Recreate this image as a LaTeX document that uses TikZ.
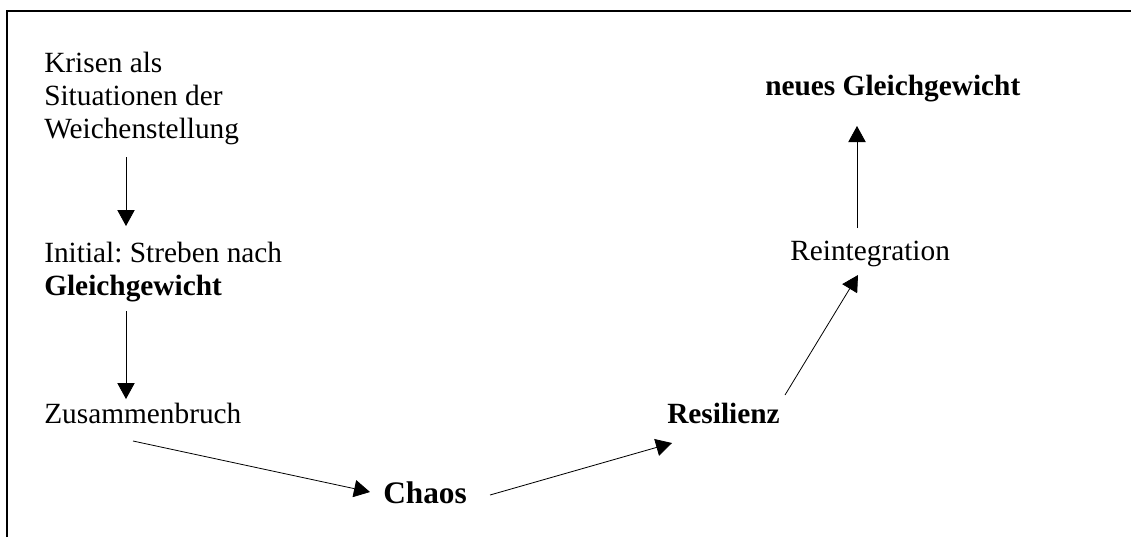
\documentclass[tikz,border=0pt]{standalone}
\usepackage{fontspec}
\setmainfont{Liberation Serif}
\usetikzlibrary{arrows.meta}
\frenchspacing
\begin{document}
\begin{tikzpicture}[x=0.75pt,y=-0.75pt,
  lbl/.style={inner sep=0pt,anchor=base west,font=\fontsize{22}{24.4}\selectfont,align=left},
  arr/.style={line width=0.6pt,-{Triangle[length=12pt,width=13pt]}},
  frameline/.style={line width=1.5pt}]
\useasboundingbox (0,0) rectangle (1131,537);
\draw[frameline] (7,537) -- (7,11) -- (1131,11);
\node[lbl] (krisen) at (44,138) {Krisen als\\Situationen der\\Weichenstellung};
\node[lbl] (initial) at (44,295) {Initial: Streben nach\\\textbf{Gleichgewicht}};
\node[lbl] (zus) at (44,423) {Zusammenbruch};
\node[lbl,font=\fontsize{23.5}{26}\selectfont] (chaos) at (383,503) {\textbf{Chaos}};
\node[lbl] (res) at (667,423) {\textbf{Resilienz}};
\node[lbl] (reint) at (790,260) {Reintegration};
\node[lbl] (neu) at (765,95) {\textbf{neues Gleichgewicht}};
\coordinate (a1s) at (126,157); \coordinate (a1e) at (126,226);
\coordinate (a2s) at (126,311); \coordinate (a2e) at (126,399);
\coordinate (a3s) at (133,441); \coordinate (a3e) at (370,492);
\coordinate (a4s) at (490,495); \coordinate (a4e) at (672,443);
\coordinate (a5s) at (785,395); \coordinate (a5e) at (858,275);
\coordinate (a6s) at (857,228); \coordinate (a6e) at (857,126);
\draw[arr] (a1s) -- (a1e);
\draw[arr] (a2s) -- (a2e);
\draw[arr] (a3s) -- (a3e);
\draw[arr] (a4s) -- (a4e);
\draw[arr] (a5s) -- (a5e);
\draw[arr] (a6s) -- (a6e);
\end{tikzpicture}
\end{document}
